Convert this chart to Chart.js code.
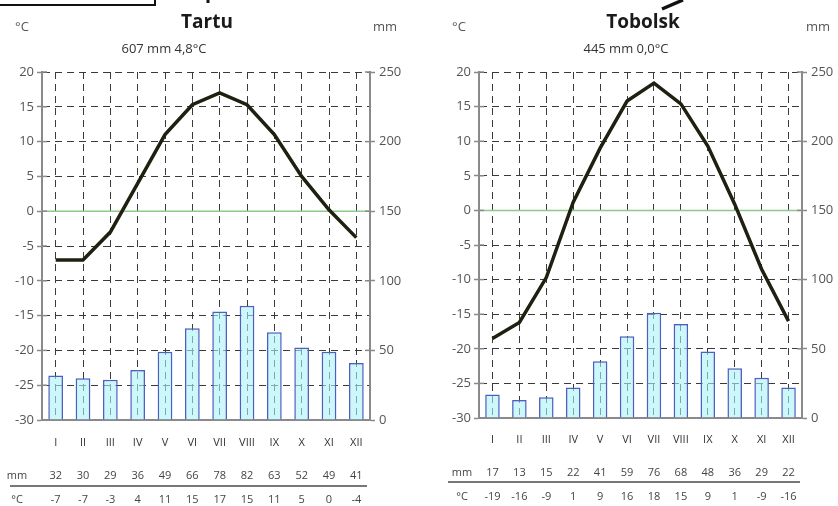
<!DOCTYPE html>
<html>
<head>
<meta charset="utf-8">
<script src="https://cdn.jsdelivr.net/npm/chart.js@4.4.1/dist/chart.umd.min.js"></script>
<style>
  body { margin: 0; background: #fff; width: 838px; height: 506px; overflow: hidden; position: relative; }
  canvas { position: absolute; top: 0; }
  #deco { position: absolute; left: 0; top: 0; }
</style>
</head>
<body>
<canvas id="tartu" width="420" height="506" style="left:0"></canvas>
<canvas id="tobolsk" width="401" height="506" style="left:437px"></canvas>
<svg id="deco" width="838" height="20">
  <rect x="-3" y="-3" width="158" height="8" fill="none" stroke="#111" stroke-width="2"/>
  <line x1="208" y1="0" x2="208" y2="3" stroke="#111" stroke-width="3"/>
  <line x1="662" y1="9" x2="683" y2="0" stroke="#111" stroke-width="3.5"/>
</svg>
<script>
// month labels
const months = ["I", "II", "III", "IV", "V", "VI", "VII", "VIII", "IX", "X", "XI", "XII"];

// Tartu
const tartuPrecip = [32, 30, 29, 36, 49, 66, 78, 82, 63, 52, 49, 41];
const tartuTemp = [-7, -7, -3, 4, 11, 15.3, 17, 15.3, 11, 5, 0.2, -3.8];
const tartuTempRow = ["-7", "-7", "-3", "4", "11", "15", "17", "15", "11", "5", "0", "-4"];
const tartuName = "Tartu";
const tartuSummary = "607 mm 4,8°C";

// Tobolsk
const tobolskPrecip = [17, 13, 15, 22, 41, 59, 76, 68, 48, 36, 29, 22];
const tobolskTemp = [-18.5, -16.2, -9.7, 1.2, 9, 15.8, 18.4, 15.4, 9.3, 0.9, -8.5, -16];
const tobolskTempRow = ["-19", "-16", "-9", "1", "9", "16", "18", "15", "9", "1", "-9", "-16"];
const tobolskName = "Tobolsk";
const tobolskSummary = "445 mm 0,0°C";

const FONT = "'Open Sans', sans-serif";
const GRID = "#3a3a3a";
const AXIS = "#8a8a8a";

// titles, zero line, inner tick crosses and the table under the chart
const climatePlugin = {
    id: "climate",
    beforeDatasetsDraw(chart) {
        const ctx = chart.ctx;
        const y0 = chart.scales.temp.getPixelForValue(0);
        const a = chart.chartArea;
        ctx.save();
        ctx.strokeStyle = "#8cc98a";
        ctx.lineWidth = 1.5;
        ctx.beginPath();
        ctx.moveTo(a.left, y0);
        ctx.lineTo(a.right, y0);
        ctx.stroke();
        ctx.restore();
    },
    afterDraw(chart) {
        const o = chart.options.plugins.climate;
        const ctx = chart.ctx;
        const a = chart.chartArea;
        const x = chart.scales.x;
        ctx.save();

        // inner half of the tick crosses
        ctx.strokeStyle = AXIS;
        ctx.lineWidth = 1.5;
        chart.scales.temp.ticks.forEach(t => {
            const y = chart.scales.temp.getPixelForValue(t.value);
            ctx.beginPath(); ctx.moveTo(a.left, y); ctx.lineTo(a.left + 5, y); ctx.stroke();
        });
        chart.scales.mm.ticks.forEach(t => {
            const y = chart.scales.mm.getPixelForValue(t.value);
            ctx.beginPath(); ctx.moveTo(a.right - 5, y); ctx.lineTo(a.right, y); ctx.stroke();
        });

        // header
        ctx.textAlign = "center";
        ctx.textBaseline = "middle";
        ctx.fillStyle = "#1a1a1a";
        ctx.font = "bold 19px " + FONT;
        ctx.fillText(o.name, o.titleX, 23);
        ctx.font = "13px " + FONT;
        ctx.fillStyle = "#333";
        ctx.fillText(o.summary, o.subX, 49);
        ctx.fillStyle = "#555";
        ctx.font = "13px " + FONT;
        ctx.fillText("°C", o.degX, 27);
        ctx.fillText("mm", o.mmX, 27);

        // table
        ctx.font = "11px " + FONT;
        ctx.fillStyle = "#444";
        ctx.fillText("mm", o.labelX, o.rowMm);
        ctx.fillText("°C", o.labelX, o.rowDeg);
        o.precip.forEach((v, i) => ctx.fillText(String(v), x.getPixelForValue(i), o.rowMm));
        o.tempRow.forEach((v, i) => ctx.fillText(v, x.getPixelForValue(i), o.rowDeg));
        ctx.strokeStyle = "#777";
        ctx.lineWidth = 2;
        ctx.beginPath();
        ctx.moveTo(o.lineX0, o.lineY);
        ctx.lineTo(o.lineX1, o.lineY);
        ctx.stroke();
        ctx.restore();
    }
};

function climateChart(id, precip, temp, tempRow, name, summary, geo) {
    const ctx = document.getElementById(id).getContext("2d");
    return new Chart(ctx, {
        data: {
            labels: months,
            datasets: [
                {
                    type: "line",
                    data: temp,
                    yAxisID: "temp",
                    borderColor: "#1f200f",
                    borderWidth: 3.5,
                    pointRadius: 0,
                    tension: 0,
                    order: 0
                },
                {
                    type: "bar",
                    data: precip,
                    yAxisID: "mm",
                    backgroundColor: "rgba(170, 244, 250, 0.6)",
                    borderColor: "#4f5fbf",
                    borderWidth: 1.5,
                    categoryPercentage: 1,
                    barPercentage: 0.54,
                    order: 1
                }
            ]
        },
        options: {
            responsive: false,
            animation: false,
            layout: { padding: { top: 72, left: 0, right: 0, bottom: 0 } },
            plugins: {
                legend: { display: false },
                tooltip: { enabled: false },
                climate: Object.assign({ name: name, summary: summary, precip: precip, tempRow: tempRow }, geo)
            },
            scales: {
                x: {
                    offset: true,
                    afterFit(s) { s.height = geo.xHeight; },
                    grid: { offset: false, color: GRID, drawTicks: false },
                    border: { display: true, color: AXIS, width: 2, dash: [7, 5] },
                    ticks: { color: "#333", font: { family: FONT, size: 11 }, padding: geo.monthPad }
                },
                temp: {
                    position: "left",
                    min: -30,
                    max: 20,
                    afterFit(s) { s.width = 42; },
                    ticks: { stepSize: 5, color: "#555", font: { family: FONT, size: 13 }, padding: 3 },
                    grid: {
                        color: c => (c.tick && c.tick.value === 0 ? "rgba(0,0,0,0)" : GRID),
                        tickColor: AXIS,
                        tickLength: 5,
                        tickWidth: 1.5
                    },
                    border: { color: AXIS, width: 2, dash: [7, 5] }
                },
                mm: {
                    position: "right",
                    min: 0,
                    max: 250,
                    afterFit(s) { s.width = geo.rightWidth; },
                    ticks: { stepSize: 50, color: "#555", font: { family: FONT, size: 13 }, padding: 4 },
                    grid: { drawOnChartArea: false, tickColor: AXIS, tickLength: 5, tickWidth: 1.5 },
                    border: { color: AXIS, width: 2 }
                }
            }
        },
        plugins: [climatePlugin]
    });
}

climateChart("tartu", tartuPrecip, tartuTemp, tartuTempRow, tartuName, tartuSummary, {
    xHeight: 86, rightWidth: 50, monthPad: 16,
    titleX: 207, subX: 164, degX: 22, mmX: 385,
    labelX: 17, rowMm: 476, rowDeg: 500, lineY: 486, lineX0: 10, lineX1: 367
});

climateChart("tobolsk", tobolskPrecip, tobolskTemp, tobolskTempRow, tobolskName, tobolskSummary, {
    xHeight: 88, rightWidth: 36, monthPad: 15,
    titleX: 206, subX: 189, degX: 22, mmX: 381,
    labelX: 25, rowMm: 473, rowDeg: 497, lineY: 482, lineX0: 11, lineX1: 363
});
</script>
</body>
</html>
